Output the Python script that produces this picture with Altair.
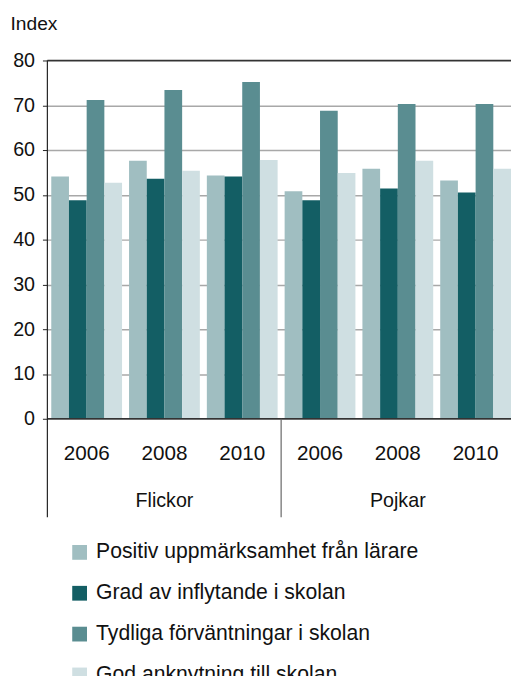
import altair as alt
import pandas as pd

groups = ["Flickor", "Flickor", "Flickor", "Pojkar", "Pojkar", "Pojkar"]
years = ["2006", "2008", "2010", "2006", "2008", "2010"]
series = [
    "Positiv uppmärksamhet från lärare",
    "Grad av inflytande i skolan",
    "Tydliga förväntningar i skolan",
    "God anknytning till skolan",
]
positiv = [54.1, 57.6, 54.3, 50.8, 55.8, 53.2]
grad = [48.8, 53.6, 54.1, 48.8, 51.4, 50.5]
tydliga = [71.2, 73.4, 75.2, 68.8, 70.3, 70.3]
god = [52.7, 55.4, 57.8, 54.9, 57.6, 55.8]
colors = ["#a0bec1", "#135e64", "#5a8d91", "#cfdfe2"]

keys = [g + "|" + y for g, y in zip(groups, years)]
rows = []
for s, vals in zip(series, [positiv, grad, tydliga, god]):
    for k, v in zip(keys, vals):
        rows.append({"key": k, "serie": s, "value": v})
df = pd.DataFrame(rows)

W, H = 471, 364
FONT = "Liberation Sans"
P_IN, P_OUT = 0.09, 0.025
step = W / (6 - P_IN + 2 * P_OUT)
sep_x = 2 * P_OUT * step + 3 * step - P_IN * step / 2

xscale = alt.Scale(domain=keys, paddingInner=P_IN, paddingOuter=P_OUT, align=1)

bars = alt.Chart(df).mark_bar().encode(
    x=alt.X("key:N", scale=xscale, sort=keys,
            axis=alt.Axis(title=None, labelExpr="split(datum.label, '|')[1]",
                          domain=False, ticks=False, labelAngle=0,
                          labelFontSize=21, labelPadding=24, labelColor="#111",
                          labelFont=FONT)),
    xOffset=alt.XOffset("serie:N", sort=series,
                        scale=alt.Scale(domain=series, paddingInner=0, paddingOuter=0)),
    y=alt.Y("value:Q", scale=alt.Scale(domain=[0, 80], nice=False),
            axis=alt.Axis(values=list(range(0, 90, 10)), title="Index",
                          titleAngle=0, titleAlign="left", titleBaseline="alphabetic",
                          titleX=-38, titleY=-31, titleFontSize=19.5, titleFontWeight="normal",
                          titleFont=FONT, titleColor="#111",
                          labelFontSize=20, labelFont=FONT, labelColor="#111",
                          labelPadding=8, tickSize=5, tickColor="#222",
                          domain=False, grid=True, gridColor="#a8a8a8", gridWidth=1.5)),
    color=alt.Color("serie:N", sort=series,
                    scale=alt.Scale(domain=series, range=colors),
                    legend=alt.Legend(orient="none", legendX=22, legendY=489,
                                      direction="vertical", title=None,
                                      symbolType="square", symbolSize=225,
                                      symbolStrokeWidth=0, symbolOpacity=1,
                                      labelFontSize=21.5, labelFont=FONT, labelColor="#111",
                                      labelOffset=6, rowPadding=18.5, labelLimit=600,
                                      padding=0)),
)

hlines = alt.Chart(pd.DataFrame({"v": [0, 80]})).mark_rule(
    color="#333", strokeWidth=1.5).encode(y=alt.Y("v:Q"))

left_line = alt.Chart(pd.DataFrame({"a": [0]})).mark_rule(color="#222", strokeWidth=1.2).encode(
    x=alt.value(0), y=alt.value(0), y2=alt.value(H + 100))
mid_line = alt.Chart(pd.DataFrame({"a": [0]})).mark_rule(color="#666", strokeWidth=1.2).encode(
    x=alt.value(sep_x), y=alt.value(H), y2=alt.value(H + 100))

group_df = pd.DataFrame({"key": ["Flickor|2008", "Pojkar|2008"], "label": ["Flickor", "Pojkar"]})
group_text = alt.Chart(group_df).mark_text(
    fontSize=20, font=FONT, color="#111", baseline="middle").encode(
    x=alt.X("key:N", scale=xscale, sort=keys),
    y=alt.value(H + 84),
    text="label:N")

chart = alt.layer(bars, hlines, left_line, mid_line, group_text).properties(
    width=W, height=H,
    autosize=alt.AutoSizeParams(type="none"),
    padding={"left": 40, "top": 48, "right": 0, "bottom": 256},
).configure_view(stroke=None)

chart.save("out.html", embed_options={"renderer": "svg", "actions": False})
